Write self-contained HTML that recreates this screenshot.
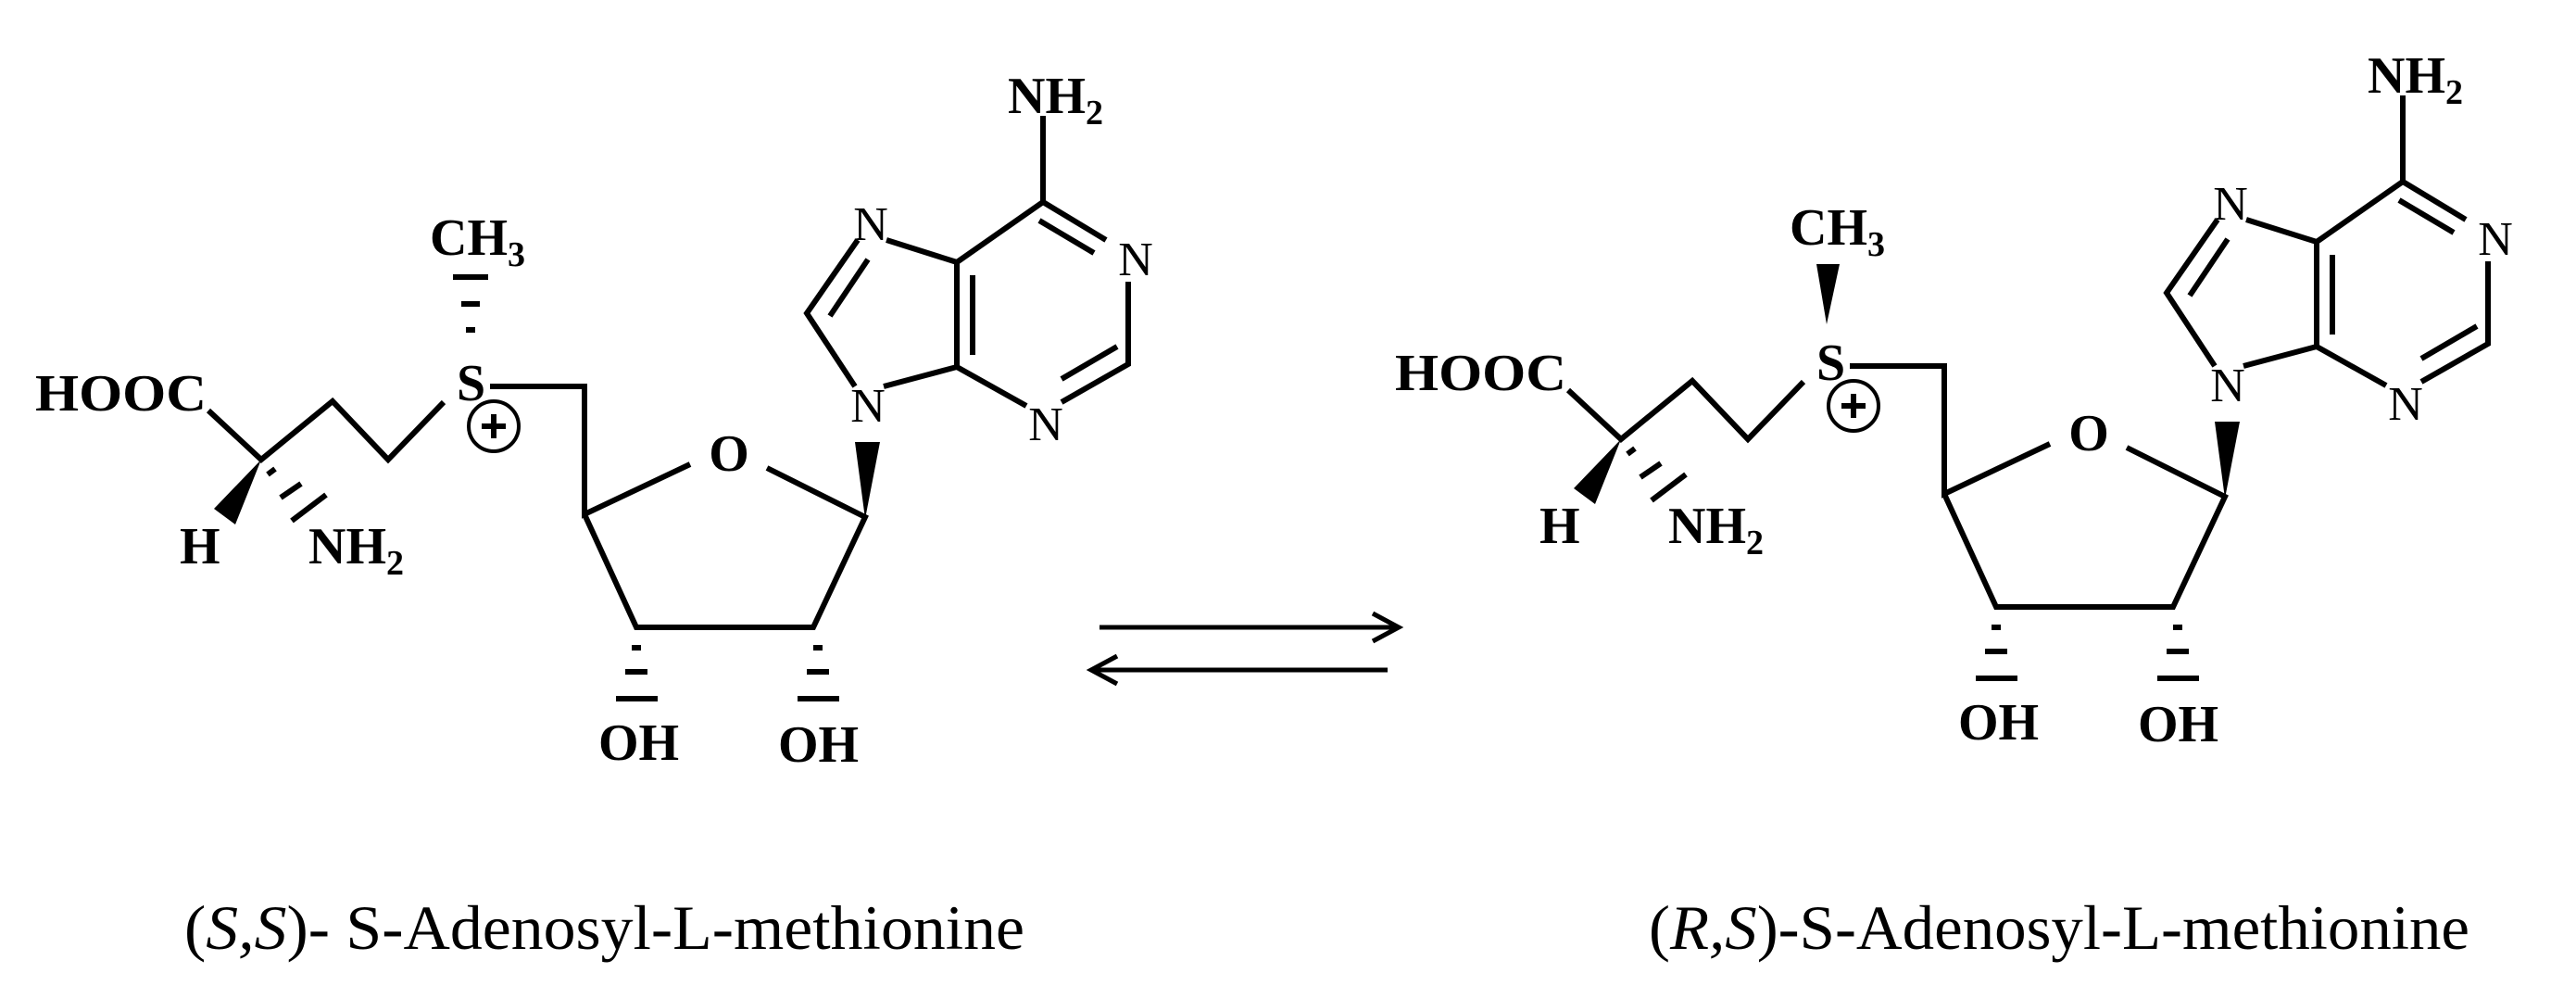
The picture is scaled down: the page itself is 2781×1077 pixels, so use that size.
<!DOCTYPE html>
<html><head><meta charset="utf-8"><style>
html,body{margin:0;padding:0;background:#fff;}
svg{display:block}
text{font-family:"Liberation Serif",serif;fill:#000}
.b{font-weight:bold;font-size:56px}
.n{font-size:52px}
.s{font-size:38px}
</style></head><body>
<svg width="2781" height="1077" viewBox="0 0 2781 1077" xmlns="http://www.w3.org/2000/svg">
<defs>
<g id="mol">
 <g stroke="#000" stroke-width="6" fill="none" stroke-linecap="butt" stroke-linejoin="miter">
  <polyline points="225,443 282,496 359,433 419,496 479,434"/>
  <polyline points="529,417 631,417 631,555 745,501"/>
  <polyline points="828,505 934,558 878,677 687,677 631,555"/>
  <polyline points="923,417 871,338 926,259"/>
  <line x1="896" y1="341" x2="937" y2="280"/>
  <polyline points="957,259 1033,283 1033,396 954,417"/>
  <line x1="1050" y1="297" x2="1050" y2="383"/>
  <polyline points="1033,283 1126,218 1126,125"/>
  <line x1="1126" y1="218" x2="1194" y2="259"/>
  <line x1="1122" y1="238" x2="1181" y2="273"/>
  <polyline points="1218,304 1218,393 1146,434"/>
  <line x1="1206" y1="374" x2="1146" y2="409"/>
  <line x1="1108" y1="438" x2="1033" y2="396"/>
  <line x1="289" y1="512" x2="297" y2="506"/>
  <line x1="303" y1="537" x2="325" y2="522"/>
  <line x1="315" y1="562" x2="352" y2="534"/>
  <line x1="682" y1="699" x2="692" y2="699"/>
  <line x1="675" y1="725" x2="699" y2="725"/>
  <line x1="665" y1="754" x2="710" y2="754"/>
  <line x1="878" y1="699" x2="888" y2="699"/>
  <line x1="871" y1="725" x2="895" y2="725"/>
  <line x1="861" y1="754" x2="906" y2="754"/>
  <circle cx="533" cy="460" r="27" stroke-width="4"/>
  <line x1="520" y1="460" x2="546" y2="460"/>
  <line x1="533" y1="447" x2="533" y2="473"/>
 </g>
 <polygon points="282,496 231,549 254,566" fill="#000"/>
 <polygon points="934,560 923,477 950,477" fill="#000"/>
 <text class="b" x="38" y="443" textLength="185" lengthAdjust="spacingAndGlyphs">HOOC</text>
 <text class="b" x="194" y="608">H</text>
 <text class="b" x="333" y="608">NH<tspan class="s" dy="12">2</tspan></text>
 <text class="b" x="493" y="432">S</text>
 <text class="b" x="787" y="508" text-anchor="middle">O</text>
 <text class="b" x="646" y="820">OH</text>
 <text class="b" x="840" y="822">OH</text>
 <text class="n" x="937" y="455" text-anchor="middle">N</text>
 <text class="n" x="940" y="259" text-anchor="middle">N</text>
 <text class="n" x="1226" y="297" text-anchor="middle">N</text>
 <text class="n" x="1129" y="475" text-anchor="middle">N</text>
 <text class="b" x="1088" y="122">NH<tspan class="s" dy="12">2</tspan></text>
</g>
</defs>
<use href="#mol"/>
<g stroke="#000" stroke-width="6">
 <line x1="489" y1="299" x2="527" y2="299"/>
 <line x1="498" y1="328" x2="518" y2="328"/>
 <line x1="503" y1="356" x2="513" y2="356"/>
</g>
<text class="b" x="464" y="275">CH<tspan class="s" dy="12">3</tspan></text>
<g transform="translate(1468,-22)">
 <use href="#mol"/>
 <polygon points="504,372 493,307 518,307" fill="#000"/>
 <text class="b" x="464" y="286">CH<tspan class="s" dy="12">3</tspan></text>
</g>
<g stroke="#000" stroke-width="5" fill="none">
 <line x1="1187" y1="677" x2="1508" y2="677"/>
 <polyline points="1482,662 1510,677 1482,692"/>
 <line x1="1180" y1="723" x2="1498" y2="723"/>
 <polyline points="1206,708 1178,723 1206,738"/>
</g>
<text x="199" y="1024" font-size="68" textLength="907" lengthAdjust="spacingAndGlyphs">(<tspan font-style="italic">S,S</tspan>)- S-Adenosyl-L-methionine</text>
<text x="1780" y="1024" font-size="68" textLength="886" lengthAdjust="spacingAndGlyphs">(<tspan font-style="italic">R,S</tspan>)-S-Adenosyl-L-methionine</text>
</svg>
</body></html>
